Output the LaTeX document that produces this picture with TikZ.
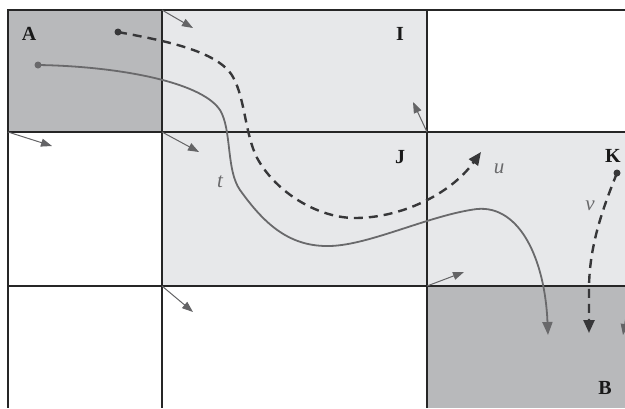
\documentclass[tikz,border=0pt]{standalone}
\usepackage{fontspec}
\setmainfont{Liberation Serif}
\usetikzlibrary{arrows.meta}
\definecolor{gridc}{RGB}{38,38,38}
\definecolor{darkcell}{RGB}{184,185,187}
\definecolor{lightcell}{RGB}{231,232,234}
\definecolor{curvec}{RGB}{105,105,107}
\definecolor{dashc}{RGB}{55,55,57}
\definecolor{smallc}{RGB}{100,100,102}
\tikzset{
  gridline/.style={draw=gridc, line width=2pt},
  celllabel/.style={font=\fontsize{20}{24}\selectfont\bfseries, text=black!90, inner sep=0pt},
  curvelabel/.style={font=\fontsize{21}{24}\selectfont\itshape, text=curvec, inner sep=0pt},
  solidpath/.style={draw=curvec, line width=1.8pt, -{Triangle[length=13pt,width=10pt]}},
  dashpath/.style={draw=dashc, line width=2.4pt, dash pattern=on 9pt off 6pt, -{Triangle[length=13pt,width=11pt]}},
  smallarrow/.style={draw=smallc, line width=1pt, -{Triangle[length=11pt,width=8pt]}},
  startdot/.style={circle, fill=#1, inner sep=0pt, minimum size=7pt},
}
\begin{document}
\begin{tikzpicture}[x=1pt,y=-1pt]
\useasboundingbox (0,0) rectangle (625,408);
% cells
\fill[darkcell] (8,10) rectangle (162,132);
\fill[lightcell] (162,10) rectangle (427,132);
\fill[lightcell] (162,132) rectangle (427,286);
\fill[lightcell] (427,132) rectangle (625,286);
\fill[darkcell] (427,286) rectangle (625,408);
% grid
\draw[gridline] (8,10) -- (625,10);
\draw[gridline] (8,132) -- (625,132);
\draw[gridline] (8,286) -- (625,286);
\draw[gridline] (8,9) -- (8,408);
\draw[gridline] (162,9) -- (162,408);
\draw[gridline] (427,9) -- (427,408);
% labels
\node[celllabel] (A) at (29,34) {A};
\node[celllabel] (I) at (400,34) {I};
\node[celllabel] (J) at (400,157) {J};
\node[celllabel] (K) at (613,156) {K};
\node[celllabel] (B) at (605,388) {B};
\node[curvelabel] (t) at (220,182) {t};
\node[curvelabel] (u) at (499,169) {u};
\node[curvelabel] (v) at (590,206) {v};
% corner coordinates for small arrows
\coordinate (c1) at (162,10);  \coordinate (c1e) at (193,28);
\coordinate (c2) at (8,132);   \coordinate (c2e) at (52,146);
\coordinate (c3) at (162,132); \coordinate (c3e) at (199,152);
\coordinate (c4) at (427,132); \coordinate (c4e) at (413,102);
\coordinate (c5) at (162,286); \coordinate (c5e) at (193,312);
\coordinate (c6) at (427,286); \coordinate (c6e) at (464,272);
\coordinate (c7) at (630,292); \coordinate (c7e) at (623,335);
\foreach \a in {1,...,7} \draw[smallarrow] (c\a) -- (c\a e);
% curves
\node[startdot=curvec] (ts) at (38,65) {};
\node[startdot=dashc] (us) at (118,32) {};
\node[startdot=dashc] (vs) at (617,173) {};
\coordinate (te) at (548,335);
\coordinate (ue) at (481,152);
\coordinate (ve) at (589,333);
\draw[solidpath] (ts.center) .. controls (110,66) and (200,80) .. (220,110)
  .. controls (232,130) and (226,170) .. (240,190)
  .. controls (265,225) and (290,247) .. (330,246)
  .. controls (370,245) and (430,215) .. (477,209)
  .. controls (520,205) and (545,260) .. (te);
\draw[dashpath] (us.center) .. controls (160,40) and (218,50) .. (233,77)
  .. controls (246,100) and (245,140) .. (260,163)
  .. controls (280,195) and (320,218) .. (355,218)
  .. controls (400,218) and (450,195) .. (ue);
\draw[dashpath] (vs.center) .. controls (600,215) and (589,250) .. (589,290) -- (ve);
\end{tikzpicture}
\end{document}
